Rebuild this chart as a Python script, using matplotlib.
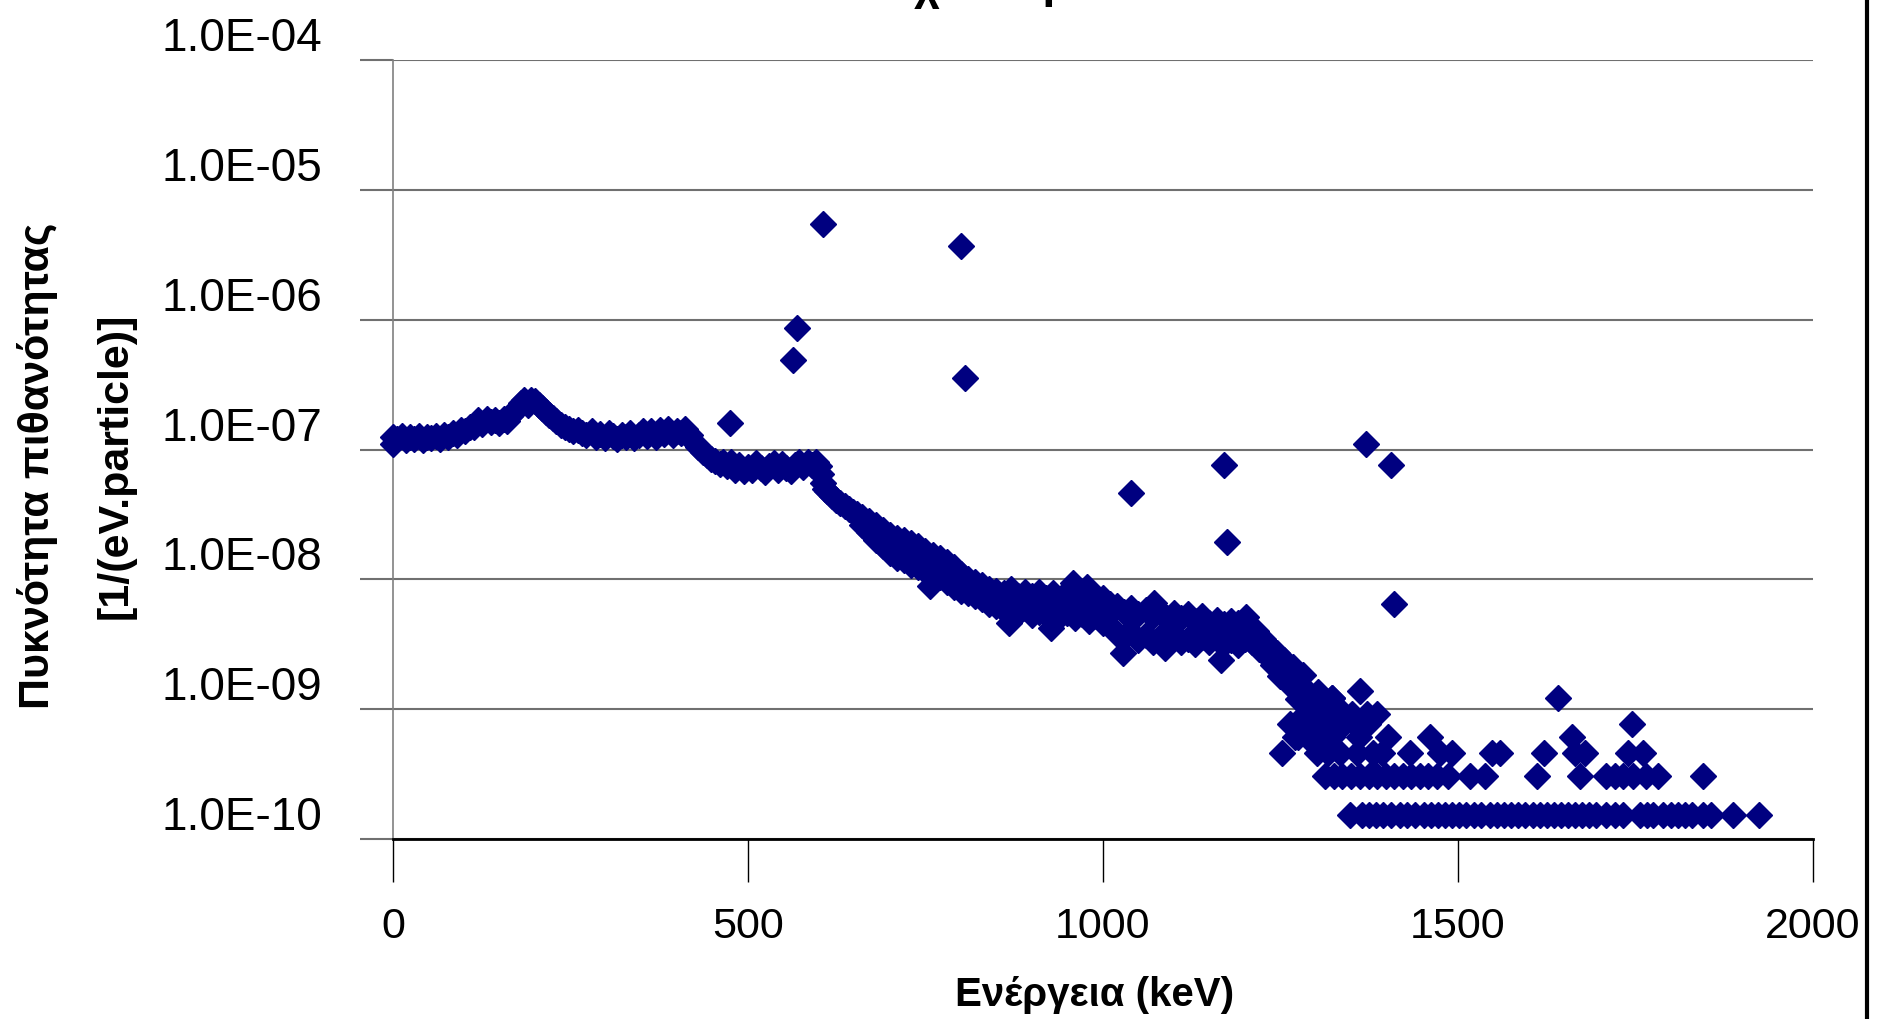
import matplotlib
matplotlib.use('Agg')
import matplotlib.pyplot as plt
from matplotlib.lines import Line2D
from matplotlib.ticker import NullLocator
from matplotlib.transforms import blended_transform_factory, ScaledTranslation

# main spectrum 0-654 keV (single band)
band_kev = [0, 0, 6, 12, 18, 24, 30, 36, 42, 48, 54, 60, 66, 72, 78, 84, 90, 96, 102, 108,
            114, 120, 126, 132, 138, 144, 150, 156, 160, 165, 170, 175, 180, 185, 190, 195,
            200, 205, 210, 215, 220, 225, 230, 236, 242, 248, 254, 260, 266, 272, 280, 286,
            292, 298, 304, 310, 316, 322, 328, 334, 340, 346, 352, 358, 364, 370, 376, 382,
            388, 394, 400, 406, 412, 418, 424, 430, 436, 442, 448, 454, 460, 465, 470, 476,
            482, 488, 494, 500, 506, 512, 518, 524, 530, 536, 542, 548, 554, 560, 566, 572,
            578, 584, 590, 596, 600, 603, 606, 609, 612, 618, 624, 630, 636, 642, 648, 654]
band_val = [1.10e-7, 1.25e-7, 1.20e-7, 1.28e-7, 1.18e-7, 1.25e-7, 1.20e-7, 1.27e-7, 1.18e-7,
            1.25e-7, 1.22e-7, 1.28e-7, 1.20e-7, 1.30e-7, 1.25e-7, 1.35e-7, 1.30e-7, 1.42e-7,
            1.38e-7, 1.50e-7, 1.48e-7, 1.70e-7, 1.58e-7, 1.72e-7, 1.62e-7, 1.70e-7, 1.60e-7,
            1.72e-7, 1.65e-7, 1.80e-7, 1.95e-7, 2.10e-7, 2.30e-7, 2.40e-7, 2.20e-7, 2.42e-7,
            2.35e-7, 2.20e-7, 2.10e-7, 1.95e-7, 1.85e-7, 1.75e-7, 1.65e-7, 1.55e-7, 1.50e-7,
            1.45e-7, 1.38e-7, 1.42e-7, 1.35e-7, 1.30e-7, 1.38e-7, 1.25e-7, 1.32e-7, 1.22e-7,
            1.35e-7, 1.28e-7, 1.20e-7, 1.30e-7, 1.25e-7, 1.35e-7, 1.22e-7, 1.30e-7, 1.40e-7,
            1.28e-7, 1.38e-7, 1.25e-7, 1.42e-7, 1.32e-7, 1.45e-7, 1.30e-7, 1.40e-7, 1.35e-7,
            1.45e-7, 1.30e-7, 1.15e-7, 1.05e-7, 9.5e-8, 9.0e-8, 8.5e-8, 8.2e-8, 7.8e-8, 8.0e-8,
            7.5e-8, 8.0e-8, 7.0e-8, 7.6e-8, 6.8e-8, 7.4e-8, 7.0e-8, 7.9e-8, 7.2e-8, 6.7e-8,
            7.5e-8, 7.9e-8, 7.0e-8, 7.7e-8, 7.2e-8, 6.8e-8, 7.6e-8, 8.0e-8, 7.3e-8, 8.0e-8,
            7.6e-8, 8.0e-8, 7.5e-8, 6.5e-8, 5.5e-8, 5.0e-8, 4.8e-8, 4.4e-8, 4.1e-8, 3.9e-8,
            3.7e-8, 3.5e-8, 3.3e-8, 3.2e-8]

# noisy part 660-1200 keV: upper and lower edge of the band
pair_kev = [660, 670, 680, 690, 700, 710, 720, 730, 740, 750, 760, 770, 780, 790, 800, 810,
            820, 830, 840, 850, 860, 870, 880, 890, 900, 910, 920, 930, 940, 950, 960, 970,
            980, 990, 1000, 1010, 1020, 1030, 1040, 1050, 1060, 1070, 1080, 1090, 1100, 1110,
            1120, 1130, 1140, 1150, 1160, 1170, 1180, 1190, 1200]
pair_hi = [3.0e-8, 2.8e-8, 2.6e-8, 2.4e-8, 2.2e-8, 2.1e-8, 2.0e-8, 1.9e-8, 1.8e-8, 1.65e-8,
           1.55e-8, 1.45e-8, 1.35e-8, 1.25e-8, 1.1e-8, 1.0e-8, 9.5e-9, 9.0e-9, 8.5e-9, 8.2e-9,
           7.8e-9, 8.5e-9, 7.5e-9, 8.0e-9, 7.5e-9, 8.0e-9, 7.2e-9, 7.8e-9, 7.0e-9, 8.0e-9,
           7.5e-9, 7.2e-9, 7.0e-9, 6.8e-9, 7.2e-9, 6.5e-9, 6.2e-9, 5.6e-9, 6.0e-9, 5.4e-9,
           5.8e-9, 5.2e-9, 5.6e-9, 5.0e-9, 5.5e-9, 5.0e-9, 5.4e-9, 4.8e-9, 5.2e-9, 4.6e-9,
           4.9e-9, 4.5e-9, 4.8e-9, 4.6e-9, 4.4e-9]
pair_lo = [2.6e-8, 2.3e-8, 2.0e-8, 1.8e-8, 1.6e-8, 1.45e-8, 1.4e-8, 1.3e-8, 1.25e-8, 1.15e-8,
           1.1e-8, 1.05e-8, 9.5e-9, 8.8e-9, 8.2e-9, 7.8e-9, 7.4e-9, 7.0e-9, 6.5e-9, 6.2e-9,
           5.8e-9, 6.0e-9, 5.5e-9, 6.0e-9, 5.3e-9, 5.6e-9, 5.4e-9, 5.8e-9, 5.2e-9, 5.5e-9,
           5.0e-9, 5.4e-9, 4.8e-9, 5.2e-9, 4.6e-9, 4.4e-9, 3.8e-9, 3.6e-9, 3.9e-9, 3.4e-9,
           3.7e-9, 3.3e-9, 3.6e-9, 3.4e-9, 3.8e-9, 3.3e-9, 3.5e-9, 3.2e-9, 3.6e-9, 3.3e-9,
           3.5e-9, 3.2e-9, 3.4e-9, 3.1e-9, 3.5e-9]

# falling edge 1200-1340 keV
edge_kev = [1201, 1210, 1215, 1220, 1225, 1230, 1235, 1240, 1245, 1250, 1255, 1260, 1265,
            1268, 1275, 1280, 1282, 1285, 1290, 1295, 1300, 1303, 1310, 1318, 1322, 1328,
            1334, 1340]
edge_val = [5.1e-9, 3.3e-9, 4.0e-9, 2.9e-9, 3.5e-9, 2.6e-9, 3.0e-9, 2.2e-9, 2.7e-9, 1.8e-9,
            2.4e-9, 1.9e-9, 1.5e-9, 2.1e-9, 1.2e-9, 1.5e-9, 1.84e-9, 9.2e-10, 1.2e-9, 1.05e-9,
            7.65e-10, 1.35e-9, 9.2e-10, 7.65e-10, 1.22e-9, 9.2e-10, 9.9e-10, 7.65e-10]

# tail: discrete levels (1, 2, 3 ... counts)
tail_levels = [1.53e-10, 3.06e-10, 4.6e-10, 6.1e-10, 7.65e-10, 9.2e-10, 1.22e-9, 1.38e-9]
tail_kev = [
    [1348, 1365, 1375, 1385, 1395, 1405, 1418, 1428, 1440, 1452, 1462, 1472, 1482, 1492,
     1502, 1512, 1522, 1532, 1545, 1555, 1565, 1575, 1585, 1595, 1605, 1615, 1625, 1635,
     1645, 1655, 1665, 1675, 1685, 1695, 1708, 1721, 1732, 1756, 1766, 1775, 1789, 1800,
     1810, 1820, 1830, 1845, 1856, 1887, 1924],
    [1313, 1325, 1337, 1350, 1362, 1374, 1386, 1398, 1410, 1422, 1434, 1446, 1458, 1470,
     1486, 1517, 1538, 1611, 1672, 1708, 1721, 1733, 1746, 1765, 1782, 1845],
    [1252, 1301, 1317, 1334, 1358, 1380, 1393, 1432, 1475, 1492, 1548, 1559, 1621, 1665,
     1679, 1740, 1761],
    [1270, 1275, 1287, 1306, 1322, 1361, 1401, 1461, 1661],
    [1263, 1292, 1315, 1355, 1373, 1745],
    [1334, 1351, 1372, 1386],
    [1322, 1641],
    [1362],
]

# isolated points
out_kev = [475, 563, 569, 605, 757, 800, 805, 868, 927, 958, 977, 1028, 1040, 1072, 1087,
           1166, 1170, 1175, 1370, 1405, 1410]
out_val = [1.6e-7, 4.9e-7, 8.6e-7, 5.5e-6, 8.9e-9, 3.7e-6, 3.55e-7, 4.6e-9, 4.2e-9, 9.3e-9,
           8.7e-9, 2.7e-9, 4.65e-8, 6.6e-9, 2.95e-9, 2.4e-9, 7.6e-8, 1.95e-8, 1.1e-7, 7.6e-8,
           6.5e-9]

ytick_vals = [1e-10, 1e-9, 1e-8, 1e-7, 1e-6, 1e-5, 1e-4]
ytick_labels = ['1.0E-10', '1.0E-09', '1.0E-08', '1.0E-07', '1.0E-06', '1.0E-05', '1.0E-04']
xtick_vals = [0, 500, 1000, 1500, 2000]

font = ['Liberation Sans', 'DejaVu Sans']
navy = '#000080'
grid_col = '#707070'

fig = plt.figure(figsize=(18.83, 10.19), dpi=100)
ax = fig.add_axes([0.2087, 0.1766, 0.7541, 0.7645])
ax.set_yscale('log')
ax.set_xlim(0, 2000)
ax.set_ylim(1e-10, 1e-4)

mk = dict(ls='none', marker='D', ms=13, color=navy, mec=navy, clip_on=False, zorder=3)
ax.plot(band_kev, band_val, **mk)
ax.plot(pair_kev, pair_hi, **mk)
ax.plot(pair_kev, pair_lo, **mk)
ax.plot(edge_kev, edge_val, **mk)
for lvl, ks in zip(tail_levels, tail_kev):
    ax.plot(ks, [lvl] * len(ks), **mk)
ax.plot(out_kev, out_val, **mk)

# axes look
ax.set_axisbelow(True)
ax.yaxis.grid(True, color=grid_col, lw=1.5)
ax.xaxis.grid(False)
ax.yaxis.set_minor_locator(NullLocator())
ax.set_yticks(ytick_vals)
ax.set_yticklabels([])
ax.set_xticks(xtick_vals)
ax.set_xticklabels([str(v) for v in xtick_vals], family=font, fontsize=31)
ax.tick_params(axis='x', direction='out', length=31, width=1, color='black', pad=18)
ax.tick_params(axis='y', direction='out', length=24, width=1.5, color=grid_col)
for s in ['top', 'right']:
    ax.spines[s].set_visible(False)
ax.spines['left'].set_color('#808080')
ax.spines['left'].set_linewidth(1.2)
ax.spines['bottom'].set_color('black')
ax.spines['bottom'].set_linewidth(2)

# y tick labels sit a little above their gridline
tr = blended_transform_factory(ax.transAxes, ax.transData) + \
    ScaledTranslation(0, 9 / 100, fig.dpi_scale_trans)
for v, lab in zip(ytick_vals, ytick_labels):
    ax.text(-0.05, v, lab, transform=tr, ha='right', va='baseline',
            family=font, fontsize=33)

fig.text(38 / 1883, 0.5427, 'Πυκνότητα πιθανότητας', rotation=90, ha='center',
         va='center', family=font, fontweight='bold', fontsize=31)
fig.text(116 / 1883, 0.5427, '[1/(eV.particle)]', rotation=90, ha='center',
         va='center', family=font, fontweight='bold', fontsize=31)
fig.text(1095 / 1883, 13 / 1019, 'Ενέργεια (keV)', ha='center', va='baseline',
         family=font, fontweight='bold', fontsize=29)

# title cut off by the top edge
fig.text(927 / 1883, 1.0, 'χ', ha='center', va='baseline', family=font,
         fontweight='bold', fontsize=32)
fig.text(1056 / 1883, 1.002, 'ρ', ha='center', va='baseline', family=font,
         fontweight='bold', fontsize=32)

fig.add_artist(Line2D([0.9915, 0.9915], [0, 1], transform=fig.transFigure,
                      color='black', lw=3))

fig.savefig('out.png', dpi=100)
